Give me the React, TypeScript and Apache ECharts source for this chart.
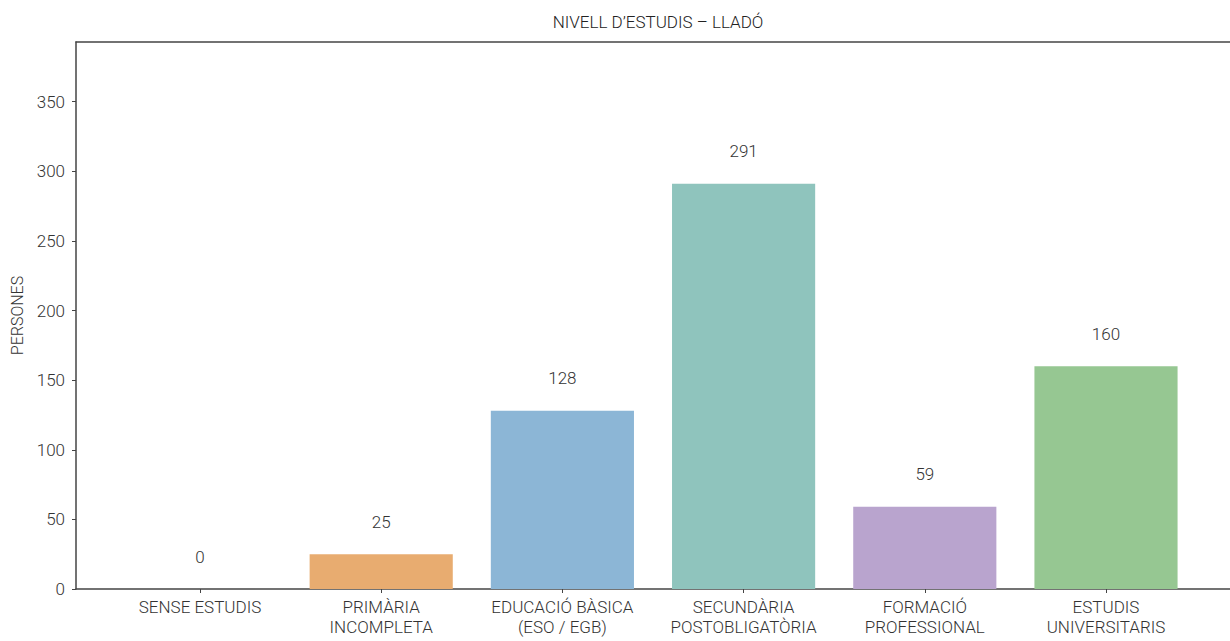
import React, { useEffect, useRef } from "react";
import * as echarts from "echarts";

const TITLE = "NIVELL D’ESTUDIS – LLADÓ";
const Y_NAME = "PERSONES";
const categories = [
  "SENSE ESTUDIS",
  "PRIMÀRIA\nINCOMPLETA",
  "EDUCACIÓ BÀSICA\n(ESO / EGB)",
  "SECUNDÀRIA\nPOSTOBLIGATÒRIA",
  "FORMACIÓ\nPROFESSIONAL",
  "ESTUDIS\nUNIVERSITARIS",
];
const values = [0, 25, 128, 291, 59, 160];
const colors = ["#E58F8F", "#E8AC70", "#8CB6D6", "#8FC4BD", "#B9A4CE", "#96C792"];

export default function App() {
  const ref = useRef<HTMLDivElement>(null);
  useEffect(() => {
    if (!ref.current) return;
    const chart = echarts.init(ref.current, undefined, { renderer: "svg" });
    const font = "Roboto";
    const top = 42;
    const bottom = 52;
    const yMax = 392.85;
    const spine = { show: true, onZero: false, lineStyle: { color: "#444", width: 1.5 } };
    chart.setOption({
      animation: false,
      backgroundColor: "#ffffff",
      title: {
        text: TITLE,
        left: 653,
        textAlign: "center",
        top: 8,
        textStyle: { fontFamily: font, fontWeight: 300, fontSize: 17, color: "#222" },
      },
      grid: [
        { left: 76, right: 0, top, bottom },
        { left: 109.4, right: 33.4, top, bottom },
      ],
      xAxis: [
        {
          gridIndex: 0,
          type: "value",
          position: "top",
          min: 0,
          max: 1,
          axisLine: spine,
          axisTick: { show: false },
          axisLabel: { show: false },
          splitLine: { show: false },
        },
        {
          gridIndex: 0,
          type: "value",
          position: "bottom",
          min: 0,
          max: 1,
          axisLine: spine,
          axisTick: { show: false },
          axisLabel: { show: false },
          splitLine: { show: false },
        },
        {
          gridIndex: 1,
          type: "category",
          data: categories,
          axisLine: { show: false },
          axisTick: { show: true, alignWithLabel: true, length: 4, lineStyle: { color: "#444" } },
          axisLabel: {
            interval: 0,
            margin: 8,
            fontFamily: font,
            fontWeight: 300,
            fontSize: 17,
            lineHeight: 20,
            color: "#333",
          },
        },
      ],
      yAxis: [
        {
          gridIndex: 0,
          type: "value",
          min: 0,
          max: yMax,
          interval: 50,
          name: Y_NAME,
          nameLocation: "middle",
          nameGap: 51,
          nameTextStyle: { fontFamily: font, fontWeight: 300, fontSize: 16, color: "#333" },
          axisLine: spine,
          axisTick: { show: true, length: 4, lineStyle: { color: "#444" } },
          splitLine: { show: false },
          axisLabel: {
            margin: 11,
            fontFamily: font,
            fontWeight: 300,
            fontSize: 17,
            color: "#333",
            showMaxLabel: false,
          },
        },
        { gridIndex: 1, type: "value", min: 0, max: yMax, show: false },
      ],
      series: [
        {
          type: "bar",
          xAxisIndex: 2,
          yAxisIndex: 1,
          barWidth: "79%",
          data: values.map((v, i) => ({ value: v, itemStyle: { color: colors[i] } })),
          label: {
            show: true,
            position: "top",
            distance: 24,
            fontFamily: font,
            fontWeight: 300,
            fontSize: 17,
            color: "#333",
          },
        },
      ],
    });
    return () => chart.dispose();
  }, []);
  return (
    <div
      ref={ref}
      style={{ position: "absolute", left: 0, top: 0, width: 1230, height: 641 }}
    />
  );
}
